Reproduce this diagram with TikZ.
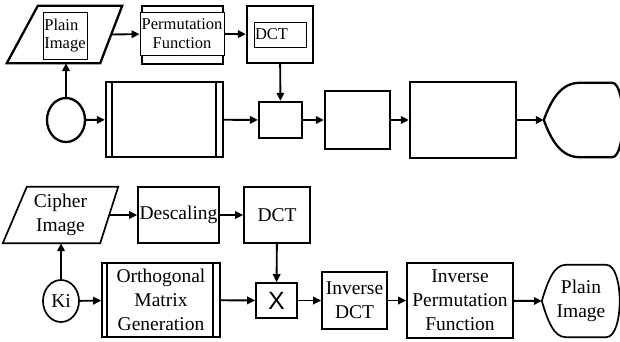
\documentclass[tikz,border=0pt]{standalone}
\usepackage{fontspec}
\setmainfont{Liberation Serif}
\newfontfamily\xfont{Liberation Sans}
\usetikzlibrary{arrows.meta,shapes.geometric}

\begin{document}
\begin{tikzpicture}[
  x=1pt, y=-1pt,
  thickln/.style={line width=2.3pt},
  thinln/.style={line width=1.7pt},
  tbox/.style={draw, thickln, inner sep=0pt},
  bbox/.style={draw, thinln, inner sep=0pt, align=center, font=\fontsize{19.5}{24}\selectfont},
  tag/.style={draw, line width=0.8pt, fill=white, inner sep=0.5pt, font=\fontsize{16.5}{18.5}\selectfont},
  line/.style={-{Triangle[length=8pt,width=7.5pt]}, line width=1.9pt}
]
\useasboundingbox (0,0) rectangle (620,341);

% encryption (top)
\node[inner sep=0pt, minimum width=115pt, minimum height=57pt] (plain1) at (64.5,34.5) {};
\draw[thickln] ([xshift=31pt]plain1.north west) -- (plain1.north east)
  -- ([xshift=-22pt]plain1.south east) -- (plain1.south west) -- cycle;
\node[tag, align=left, minimum width=44pt, minimum height=47pt] (plaintxt) at (65,35.5) {Plain\\Image};
\node[tbox, minimum width=81pt, minimum height=58pt] (permback) at (182.5,35) {};
\node[tag, align=center, minimum width=84pt, minimum height=43pt] (perm) at (182,33.5) {Permutation\\Function};
\node[tbox, minimum width=66pt, minimum height=57pt] (dct1) at (280,34.5) {};
\node[tag, align=left, text width=51pt, minimum height=25pt] (dcttxt) at (280.5,34.5) {DCT};
\node[ellipse, draw, thickln, minimum width=38pt, minimum height=44pt, inner sep=0pt] (key1) at (66,120) {};
\node[tbox, minimum width=117pt, minimum height=75pt] (orth1) at (164.5,119.5) {};
\node[tbox, minimum width=43pt, minimum height=36pt] (mul1) at (280.5,120) {};
\node[tbox, minimum width=65pt, minimum height=58pt] (idct1) at (357.5,120) {};
\node[tbox, minimum width=106pt, minimum height=76pt] (iperm1) at (463,120) {};
\node[inner sep=0pt, minimum width=78pt, minimum height=74pt] (out1) at (583,120) {};

\draw[thickln] ([xshift=7pt]orth1.north west) -- ([xshift=7pt]orth1.south west);
\draw[thickln] ([xshift=-8pt]orth1.north east) -- ([xshift=-8pt]orth1.south east);
\draw[thickln] (out1.west)
  .. controls ([xshift=8pt,yshift=22pt]out1.west) and ([xshift=18pt]out1.north west) .. ([xshift=36pt]out1.north west)
  -- ([xshift=-10pt]out1.north east)
  .. controls ([xshift=4pt]out1.north east) and ([xshift=4pt]out1.south east) .. ([xshift=-10pt]out1.south east)
  -- ([xshift=36pt]out1.south west)
  .. controls ([xshift=18pt]out1.south west) and ([xshift=8pt,yshift=-22pt]out1.west) .. (out1.west);

\draw[line] ([xshift=-11pt]plain1.east) -- (perm);
\draw[line] (perm) -- (dct1);
\draw[line] (key1.north) -- (key1.north |- plain1.south);
\draw[line] (key1) -- (orth1);
\draw[line] (orth1) -- (mul1);
\draw[line] (dct1) -- (mul1);
\draw[line] (mul1) -- (idct1);
\draw[line] (idct1) -- (iperm1);
\draw[line] (iperm1) -- (out1.west);

% decryption (bottom)
\node[inner sep=0pt, align=center, font=\fontsize{19.5}{24}\selectfont, minimum width=115pt, minimum height=56pt] (cipher) at (60.5,215) {Cipher\\Image};
\draw[thinln] ([xshift=24pt]cipher.north west) -- (cipher.north east)
  -- ([xshift=-18pt]cipher.south east) -- (cipher.south west) -- cycle;
\node[bbox, minimum width=81pt, minimum height=56pt] (desc) at (178.5,215) {Descaling};
\node[bbox, minimum width=66pt, minimum height=56pt] (dct2) at (277,215) {DCT};
\node[ellipse, draw, thinln, inner sep=0pt, font=\fontsize{19.5}{24}\selectfont, minimum width=36pt, minimum height=42pt] (key2) at (61,301) {Ki};
\node[bbox, minimum width=118pt, minimum height=74pt] (orth2) at (161,300) {Orthogonal\\Matrix\\Generation};
\node[bbox, font=\xfont\fontsize{25}{26}\selectfont, minimum width=41pt, minimum height=35pt] (mul2) at (276.5,300.5) {X};
\node[bbox, minimum width=65pt, minimum height=57pt] (idct2) at (354.5,300.5) {Inverse\\DCT};
\node[bbox, minimum width=106pt, minimum height=75pt] (iperm2) at (460,300.5) {Inverse\\Permutation\\Function};
\node[inner sep=0pt, align=center, font=\fontsize{19.5}{24}\selectfont, minimum width=78pt, minimum height=72pt] (out2) at (581,301) {Plain\\Image};

\draw[thinln] ([xshift=6pt]orth2.north west) -- ([xshift=6pt]orth2.south west);
\draw[thinln] ([xshift=-8pt]orth2.north east) -- ([xshift=-8pt]orth2.south east);
\draw[thinln] (out2.west)
  .. controls ([xshift=6pt,yshift=20pt]out2.west) and ([xshift=12pt]out2.north west) .. ([xshift=24pt]out2.north west)
  -- ([xshift=-14pt]out2.north east)
  .. controls ([xshift=4pt]out2.north east) and ([xshift=4pt]out2.south east) .. ([xshift=-14pt]out2.south east)
  -- ([xshift=24pt]out2.south west)
  .. controls ([xshift=12pt]out2.south west) and ([xshift=6pt,yshift=-20pt]out2.west) .. (out2.west);

\draw[line] ([xshift=-9pt]cipher.east) -- (desc);
\draw[line] (desc) -- (dct2);
\draw[line] (key2.north) -- (key2.north |- cipher.south);
\draw[line] (key2) -- (orth2);
\draw[line] (orth2) -- (mul2);
\draw[line] (dct2) -- (mul2);
\draw[line] (mul2) -- (idct2);
\draw[line] (idct2) -- (iperm2);
\draw[line] (iperm2) -- (out2.west);
\end{tikzpicture}
\end{document}
